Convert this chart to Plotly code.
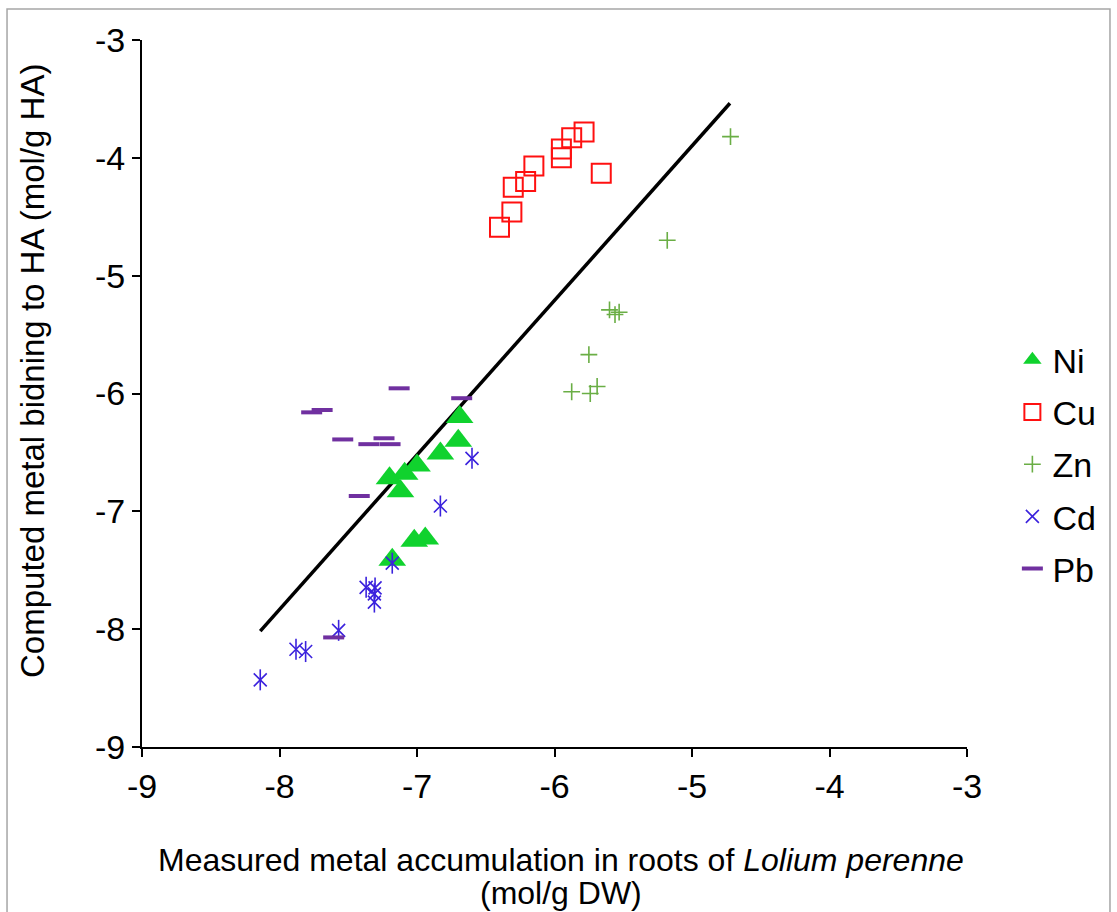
import plotly.graph_objects as go

ni_x = [-6.69, -6.70, -6.83, -7.00, -7.09, -7.20, -7.12, -7.02, -6.94, -7.18]
ni_y = [-6.20, -6.40, -6.51, -6.61, -6.68, -6.72, -6.83, -7.25, -7.23, -7.41]

cu_x = [-6.40, -6.31, -6.30, -6.21, -6.15, -5.95, -5.95, -5.875, -5.785, -5.66]
cu_y = [-4.59, -4.46, -4.25, -4.20, -4.07, -3.925, -4.00, -3.83, -3.78, -4.13]

zn_x = [-4.72, -5.18, -5.60, -5.53, -5.56, -5.75, -5.875, -5.74, -5.69]
zn_y = [-3.82, -4.70, -5.29, -5.31, -5.33, -5.67, -5.985, -6.00, -5.94]

cd_x = [-6.60, -6.83, -7.18, -7.37, -7.305, -7.31, -7.31, -7.57, -7.88, -7.81, -8.14]
cd_y = [-6.55, -6.955, -7.44, -7.645, -7.65, -7.70, -7.77, -8.01, -8.17, -8.19, -8.43]

pb_x = [-7.13, -6.675, -7.766, -7.69, -7.54, -7.35, -7.24, -7.196, -7.42, -7.606]
pb_y = [-5.956, -6.04, -6.16, -6.14, -6.39, -6.43, -6.38, -6.43, -6.87, -8.07]

trend_x = [-8.14, -4.724]
trend_y = [-8.016, -3.537]

x_ticks = [-9, -8, -7, -6, -5, -4, -3]
y_ticks = [-9, -8, -7, -6, -5, -4, -3]

FONT = "Liberation Sans, Arial, sans-serif"
CD = "#3B22DD"

fig = go.Figure()

fig.add_trace(go.Scatter(x=trend_x, y=trend_y, mode="lines",
                         line=dict(color="black", width=3.5), showlegend=False,
                         hoverinfo="skip"))

fig.add_trace(go.Scatter(x=ni_x, y=ni_y, mode="markers", name="Ni", legendgroup="ni",
                         marker=dict(symbol="triangle-up", size=24, color="#10D22E",
                                     line=dict(width=0))))
fig.add_trace(go.Scatter(x=cu_x, y=cu_y, mode="markers", name="Cu", legendgroup="cu",
                         marker=dict(symbol="square-open", size=19, color="#FF1010",
                                     line=dict(width=2))))
fig.add_trace(go.Scatter(x=zn_x, y=zn_y, mode="markers", name="Zn", legendgroup="zn",
                         marker=dict(symbol="cross-thin-open", size=12, color="#6AAE45",
                                     line=dict(width=1.6, color="#6AAE45"))))
fig.add_trace(go.Scatter(x=cd_x, y=cd_y, mode="markers", name="Cd", legendgroup="cd",
                         marker=dict(symbol="x-thin-open", size=13, color=CD,
                                     line=dict(width=1.6, color=CD))))
fig.add_trace(go.Scatter(x=cd_x, y=cd_y, mode="markers", name="Cd", legendgroup="cd",
                         showlegend=False,
                         marker=dict(symbol="line-ns-open", size=15, color=CD,
                                     line=dict(width=1.6, color=CD))))
fig.add_trace(go.Scatter(x=pb_x, y=pb_y, mode="markers", name="Pb", legendgroup="pb",
                         marker=dict(symbol="line-ew-open", size=15, color="#7030A0",
                                     line=dict(width=4, color="#7030A0"))))

axis_common = dict(
    showgrid=False, zeroline=False, showline=True, linecolor="black", linewidth=2,
    ticks="outside", ticklen=8, tickwidth=2, tickcolor="black",
    tickfont=dict(size=34, color="black", family=FONT),
)

fig.update_layout(
    width=1117, height=912,
    paper_bgcolor="white", plot_bgcolor="white",
    margin=dict(l=142, r=150, t=40, b=165),
    font=dict(family=FONT, color="black", size=32),
    xaxis=dict(range=[-9, -3], tickvals=x_ticks, ticktext=[str(v) for v in x_ticks],
               **axis_common),
    yaxis=dict(range=[-9, -3], tickvals=y_ticks, ticktext=[str(v) for v in y_ticks],
               **axis_common),
    legend=dict(x=1.055, y=0.40, xanchor="left", yanchor="middle",
                font=dict(size=34, family=FONT), traceorder="grouped", tracegroupgap=5,
                itemsizing="trace", bgcolor="rgba(0,0,0,0)"),
    annotations=[
        dict(text="Measured metal accumulation in roots of <i>Lolium perenne</i>",
             xref="paper", yref="paper", x=(561 - 142) / 825, y=(747 - 860) / 707,
             xanchor="center", yanchor="middle", showarrow=False,
             font=dict(size=32, family=FONT, color="black")),
        dict(text="(mol/g DW)",
             xref="paper", yref="paper", x=(561 - 142) / 825, y=(747 - 893) / 707,
             xanchor="center", yanchor="middle", showarrow=False,
             font=dict(size=32, family=FONT, color="black")),
        dict(text="Computed metal bidning to HA (mol/g HA)", textangle=-90,
             xref="paper", yref="paper", x=(33 - 142) / 825, y=(747 - 371) / 707,
             xanchor="center", yanchor="middle", showarrow=False,
             font=dict(size=33, family=FONT, color="black")),
    ],
    shapes=[dict(type="rect", xref="paper", yref="paper",
                 x0=-0.1636, x1=1.1733, y0=-0.24, y1=1.0438,
                 line=dict(color="#A6A6A6", width=1.5), fillcolor="rgba(0,0,0,0)")],
)

fig.write_html("out.html")
